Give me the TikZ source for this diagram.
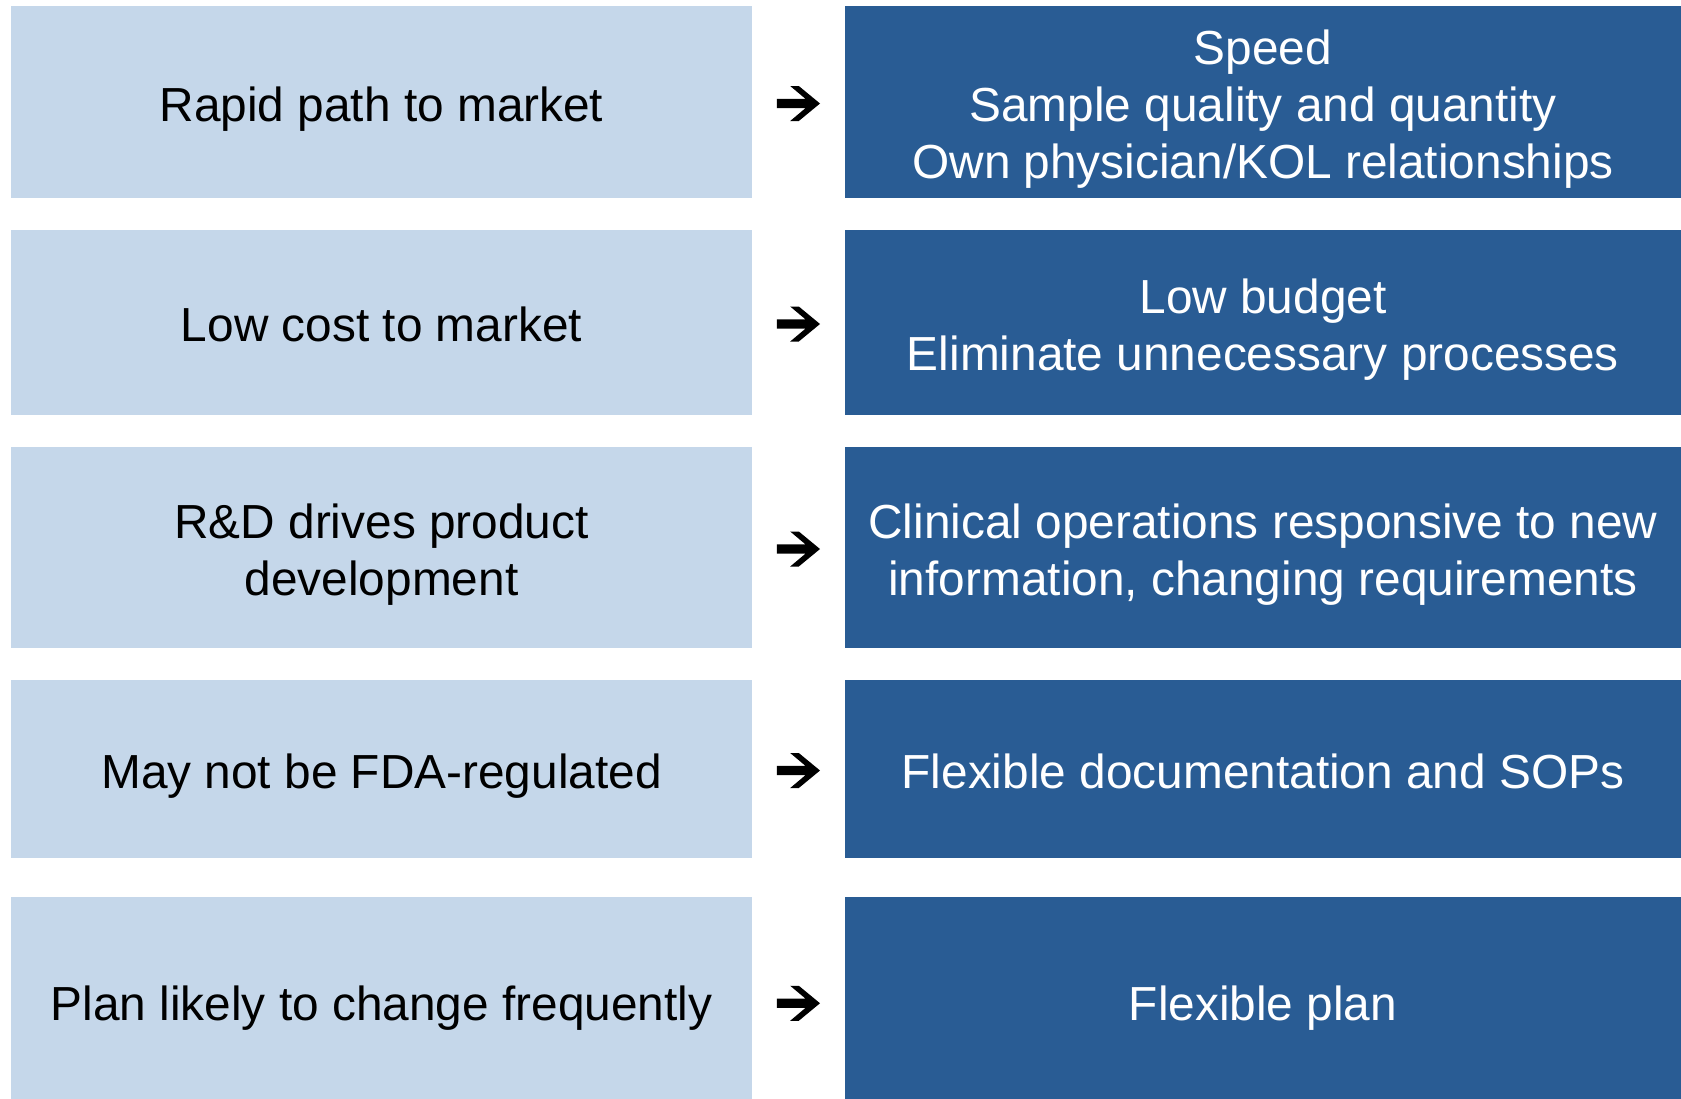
\documentclass[tikz,border=0pt]{standalone}
\usepackage{fontspec}
\setmainfont{Liberation Sans}
\usetikzlibrary{calc}
\definecolor{paleblue}{RGB}{197,215,234}
\definecolor{deepblue}{RGB}{41,92,148}
% fixed line height and depth so every text block centres the same way
\newcommand\lnstrut{\rule[-10.45pt]{0pt}{58.95pt}}

\begin{document}
% keep the baseline distance fixed even with tall struts
\setlength{\lineskiplimit}{-100pt}
\begin{tikzpicture}[x=1pt,y=-1pt,
  cell/.style={inner sep=0pt, outer sep=0pt, align=center,
               font=\fontsize{47.8}{57}\selectfont},
  cause/.style={cell, fill=paleblue, text=black, minimum width=741pt},
  effect/.style={cell, fill=deepblue, text=white, minimum width=836pt},
  heavyarrow/.style={fill=black},
]
\useasboundingbox (0,0) rectangle (1681,1098);

% left column: situation
\node[cause, minimum height=192pt]   (c1) at (381.5,102)    {\lnstrut Rapid path to market};
\node[cause, minimum height=185pt]   (c2) at (381.5,322.5)  {\lnstrut Low cost to market};
\node[cause, minimum height=201pt]   (c3) at (381.5,547.5)  {\lnstrut R\&D drives product\\\lnstrut development};
\node[cause, minimum height=178pt]   (c4) at (381.5,769)    {\lnstrut May not be FDA-regulated};
\node[cause, minimum height=209.5pt] (c5) at (381.5,1001.75){\lnstrut Plan likely to change frequently};

% right column: consequence
\node[effect, minimum height=192pt]   (e1) at (1263,102)    {\lnstrut Speed\\\lnstrut Sample quality and quantity\\\lnstrut Own physician/KOL relationships};
\node[effect, minimum height=185pt]   (e2) at (1263,322.5)  {\lnstrut Low budget\\\lnstrut Eliminate unnecessary processes};
\node[effect, minimum height=201pt]   (e3) at (1263,547.5)  {\lnstrut Clinical operations responsive to new\\\lnstrut information, changing requirements};
\node[effect, minimum height=178pt]   (e4) at (1263,769)    {\lnstrut Flexible documentation and SOPs};
\node[effect, minimum height=209.5pt] (e5) at (1263,1001.75){\lnstrut Flexible plan};

% heavy arrows in the gap between the columns
\foreach \i in {1,...,5}{
  \coordinate (a\i) at ($(c\i.east)!0.5!(e\i.west)+(0,1.5)$);
  \fill[heavyarrow, shift={(a\i)}]
    (-21.7,-4.7) -- (6.9,-4.7) -- (-8.3,-17.5) -- (0.3,-17.5) -- (21.5,0)
    -- (0.3,17.5) -- (-8.3,17.5) -- (6.9,4.7) -- (-21.7,4.7) -- cycle;
}
\end{tikzpicture}
\end{document}
